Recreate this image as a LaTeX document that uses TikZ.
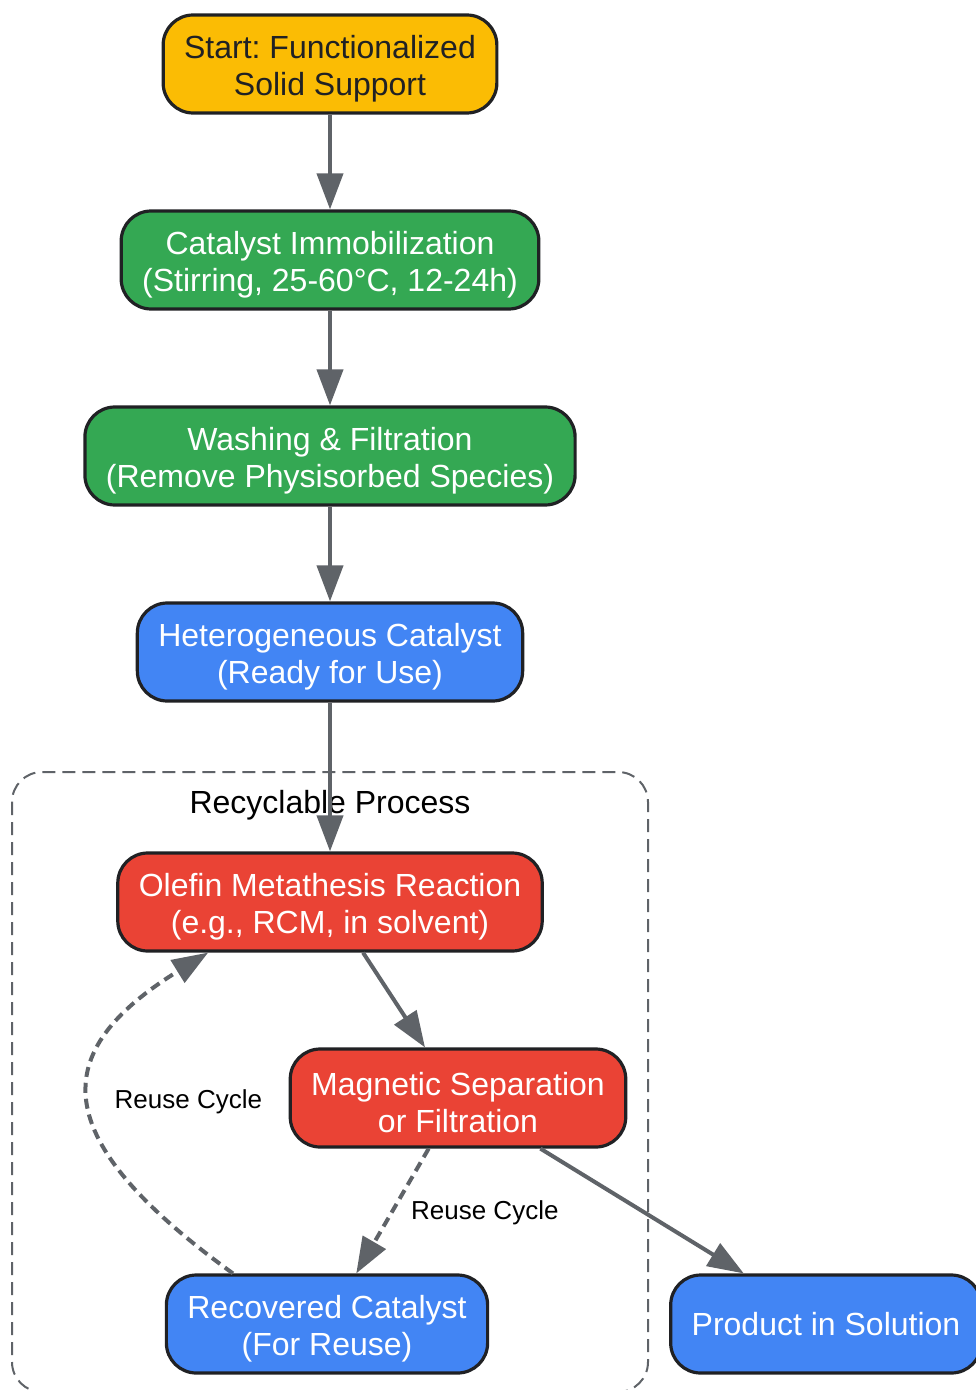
\documentclass[tikz,border=0pt]{standalone}
\usepackage{fontspec}
\setmainfont{Liberation Sans}
\usepackage{xcolor}
\definecolor{DarkGrey}{HTML}{202124}
\definecolor{LineGrey}{HTML}{5F6368}
\definecolor{BoxYellow}{HTML}{FBBC04}
\definecolor{BoxGreen}{HTML}{34A853}
\definecolor{BoxBlue}{HTML}{4285F4}
\definecolor{BoxRed}{HTML}{EA4335}
\usepackage{tikz}
\usetikzlibrary{calc,arrows.meta,positioning}
\frenchspacing
\newcommand\ColX{330}
\newcommand\Gap{196}
\newcommand\TopLine{\rule{0pt}{16.5pt}}
\tikzstyle{stage}=[rectangle,rounded corners=15pt,draw=DarkGrey,line width=1.6pt,
                     text=white,align=center,inner xsep=10.5pt,minimum height=49pt,
                     font=\fontsize{16}{18.5}\selectfont]
\tikzstyle{flow}=[draw=LineGrey,line width=2pt,-{Triangle[length=18pt,width=13pt]}]
\tikzstyle{reuse}=[flow,dash pattern=on 5pt off 3pt]
\tikzstyle{edgelabel}=[font=\fontsize{13}{15}\selectfont,text=black]

\begin{document}
\begin{tikzpicture}[x=0.5pt,y=-0.5pt]
      \useasboundingbox (0,0) rectangle (975,1390);
      % recyclable process cluster
      \draw[LineGrey,line width=1pt,dash pattern=on 6.5pt off 3.5pt,rounded corners=15pt]
            (12,772) rectangle (648,1392);
      \node (clusterlabel) at (\ColX,805) [font=\fontsize{16}{18.5}\selectfont] {Recyclable Process};
      % stages
      \node[stage] (start) at (\ColX,64) [fill=BoxYellow,text=DarkGrey] {\TopLine Start: Functionalized\\Solid Support};
      \node[stage] (immob) at (\ColX,64+\Gap) [fill=BoxGreen] {\TopLine Catalyst Immobilization\\(Stirring, 25-60°C, 12-24h)};
      \node[stage] (wash) at (\ColX,64+\Gap*2) [fill=BoxGreen] {\TopLine Washing \& Filtration\\(Remove Physisorbed Species)};
      \node[stage] (hetcat) at (\ColX,64+\Gap*3) [fill=BoxBlue] {\TopLine Heterogeneous Catalyst\\(Ready for Use)};
      \node[stage] (olefin) at (\ColX,902) [fill=BoxRed] {\TopLine Olefin Metathesis Reaction\\(e.g., RCM, in solvent)};
      \node[stage] (magsep) at (458,1098) [fill=BoxRed] {\TopLine Magnetic Separation\\or Filtration};
      \node[stage] (recov) at (327,1324) [fill=BoxBlue] {\TopLine Recovered Catalyst\\(For Reuse)};
      \node[stage] (product) at (826,1324) [fill=BoxBlue] {Product in Solution};
      % connectors
      \draw[flow] (start) -- (immob);
      \draw[flow] (immob) -- (wash);
      \draw[flow] (wash) -- (hetcat);
      \draw[flow] (hetcat) -- (olefin);
      \draw[flow] (olefin) -- (magsep);
      \draw[reuse] (magsep) -- (recov) node[edgelabel,midway,anchor=west,xshift=5pt,yshift=-1pt] (reuseB) {Reuse Cycle};
      \draw[flow] (magsep) -- (product);
      \draw[reuse] ($(recov.north)!0.58!(recov.north west)$)
            .. controls (46,1138) and (47,1052) .. ($(olefin.south)!0.57!(olefin.south west)$)
            node[edgelabel,pos=0.5,anchor=west,xshift=8pt,yshift=-1pt] (reuseA) {Reuse Cycle};
   \end{tikzpicture}
\end{document}
